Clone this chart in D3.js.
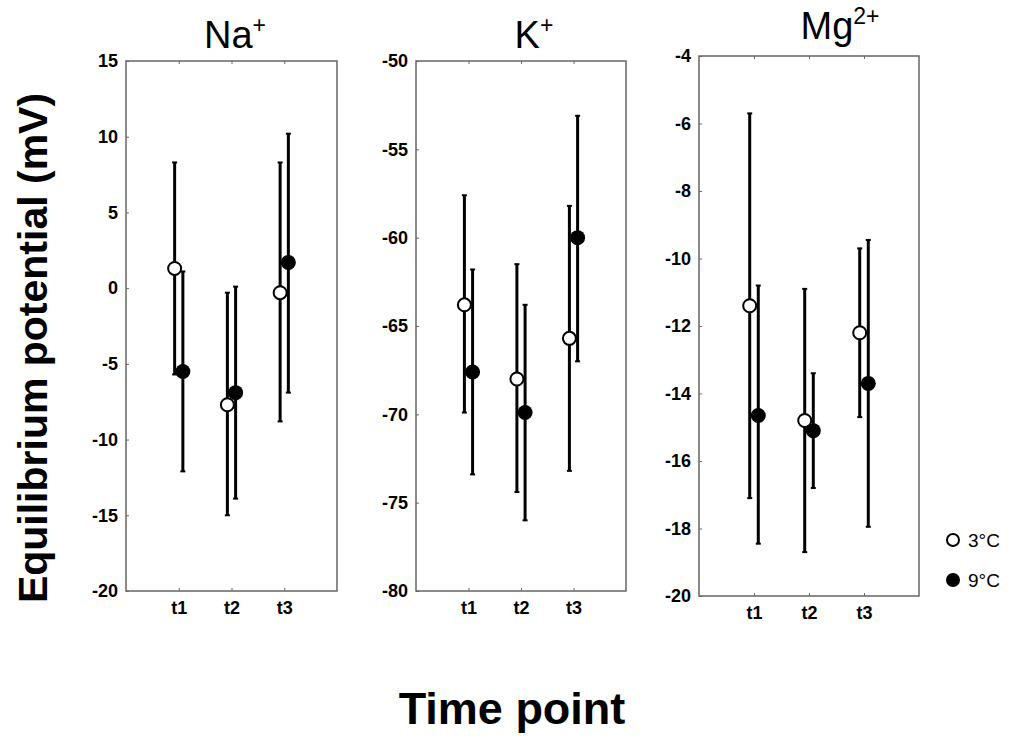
<!DOCTYPE html>
<html>
<head>
<meta charset="utf-8">
<script src="https://cdn.jsdelivr.net/npm/d3@7"></script>
<style>
  body { margin: 0; background: #fff; }
  svg { font-family: Arial, "Liberation Sans", sans-serif; }
  .tick text { font-family: Arial, "Liberation Sans", sans-serif; font-size: 18px; font-weight: bold; }
</style>
</head>
<body>
<div id="chart"></div>
<script>
// Chart size
var w = 1010;
var h = 736;

// Time points
var timePoints = ["t1", "t2", "t3"];

// Na+ (mean, lower, upper) for 3°C and 9°C
var naMean3 = [1.3, -7.7, -0.3];
var naLow3  = [-5.7, -15.0, -8.8];
var naHigh3 = [8.3, -0.3, 8.3];
var naMean9 = [-5.5, -6.9, 1.7];
var naLow9  = [-12.1, -13.9, -6.9];
var naHigh9 = [1.1, 0.1, 10.2];

// K+
var kMean3 = [-63.8, -68.0, -65.7];
var kLow3  = [-69.9, -74.4, -73.2];
var kHigh3 = [-57.6, -61.5, -58.2];
var kMean9 = [-67.6, -69.9, -60.0];
var kLow9  = [-73.4, -76.0, -67.0];
var kHigh9 = [-61.8, -63.8, -53.1];

// Mg2+
var mgMean3 = [-11.4, -14.8, -12.2];
var mgLow3  = [-17.1, -18.7, -14.7];
var mgHigh3 = [-5.7, -10.9, -9.7];
var mgMean9 = [-14.65, -15.1, -13.7];
var mgLow9  = [-18.45, -16.8, -17.95];
var mgHigh9 = [-10.8, -13.4, -9.45];

// Y axis tick values
var naTicks = [-20, -15, -10, -5, 0, 5, 10, 15];
var kTicks = [-80, -75, -70, -65, -60, -55, -50];
var mgTicks = [-20, -18, -16, -14, -12, -10, -8, -6, -4];

var svg = d3.select("#chart")
  .append("svg")
  .attr("width", w)
  .attr("height", h);

// Build rows for one series
function rows(mean, low, high, temp) {
  return timePoints.map(function(t, i) {
    return { i: i + 1, mean: mean[i], low: low[i], high: high[i], temp: temp };
  });
}

function drawPanel(p) {
  var xScale = d3.scaleLinear().domain([0, 4]).range([p.left, p.left + p.width]);
  var yScale = d3.scaleLinear().domain(d3.extent(p.ticks)).range([p.top + p.height, p.top]);
  var off = 0.078; // horizontal offset of the two temperatures

  var g = svg.append("g");

  // frame
  g.append("rect")
    .attr("x", p.left)
    .attr("y", p.top)
    .attr("width", p.width)
    .attr("height", p.height)
    .attr("fill", "none")
    .attr("stroke", "#666")
    .attr("stroke-width", 1.5);

  // y axis (plain hyphen minus like the original)
  var yAxis = g.append("g")
    .attr("transform", "translate(" + p.left + ",0)")
    .call(d3.axisLeft(yScale).tickValues(p.ticks)
      .tickFormat(function(d) { return String(d); })
      .tickSize(-3).tickPadding(8));
  yAxis.select(".domain").remove();
  yAxis.selectAll("line").attr("stroke", "#666");
  yAxis.selectAll("text").attr("fill", "#000");

  // x axis (bottom)
  var xAxis = g.append("g")
    .attr("transform", "translate(0," + (p.top + p.height) + ")")
    .call(d3.axisBottom(xScale).tickValues([1, 2, 3])
      .tickFormat(function(d) { return timePoints[d - 1]; })
      .tickSize(-3).tickPadding(10));
  xAxis.select(".domain").remove();
  xAxis.selectAll("line").attr("stroke", "#666");
  xAxis.selectAll("text").attr("fill", "#000");

  // top ticks
  var xTop = g.append("g")
    .attr("transform", "translate(0," + p.top + ")")
    .call(d3.axisTop(xScale).tickValues([1, 2, 3]).tickFormat("").tickSize(-3));
  xTop.select(".domain").remove();
  xTop.selectAll("line").attr("stroke", "#666");

  var data = rows(p.mean3, p.low3, p.high3, "3").concat(rows(p.mean9, p.low9, p.high9, "9"));
  function xPos(d) { return xScale(d.i + (d.temp === "3" ? -off : off)); }

  // error bars
  g.selectAll(".bar")
    .data(data)
    .enter()
    .append("line")
    .attr("x1", xPos)
    .attr("x2", xPos)
    .attr("y1", function(d) { return yScale(d.low); })
    .attr("y2", function(d) { return yScale(d.high); })
    .attr("stroke", "#000")
    .attr("stroke-width", 3);

  // caps
  ["low", "high"].forEach(function(k) {
    g.selectAll(".cap-" + k)
      .data(data)
      .enter()
      .append("line")
      .attr("x1", function(d) { return xPos(d) - 2.5; })
      .attr("x2", function(d) { return xPos(d) + 2.5; })
      .attr("y1", function(d) { return yScale(d[k]); })
      .attr("y2", function(d) { return yScale(d[k]); })
      .attr("stroke", "#000")
      .attr("stroke-width", 2);
  });

  // means
  g.selectAll(".pt")
    .data(data)
    .enter()
    .append("circle")
    .attr("cx", xPos)
    .attr("cy", function(d) { return yScale(d.mean); })
    .attr("r", function(d) { return d.temp === "3" ? 6.5 : 7.5; })
    .attr("fill", function(d) { return d.temp === "3" ? "#fff" : "#000"; })
    .attr("stroke", "#000")
    .attr("stroke-width", function(d) { return d.temp === "3" ? 2 : 0; });

  // title
  var title = svg.append("text")
    .attr("x", p.titleX)
    .attr("y", p.titleY)
    .attr("text-anchor", "middle")
    .style("font-size", "38px")
    .attr("fill", "#000");
  title.append("tspan").text(p.name);
  title.append("tspan")
    .attr("dy", -15)
    .style("font-size", "23px")
    .text(p.sup);
}

drawPanel({ name: "Na", sup: "+", left: 126, top: 61, width: 211, height: 530, ticks: naTicks,
  mean3: naMean3, low3: naLow3, high3: naHigh3, mean9: naMean9, low9: naLow9, high9: naHigh9,
  titleX: 235, titleY: 48 });
drawPanel({ name: "K", sup: "+", left: 416, top: 61, width: 210, height: 530, ticks: kTicks,
  mean3: kMean3, low3: kLow3, high3: kHigh3, mean9: kMean9, low9: kLow9, high9: kHigh9,
  titleX: 534, titleY: 48 });
drawPanel({ name: "Mg", sup: "2+", left: 699, top: 56, width: 220, height: 540, ticks: mgTicks,
  mean3: mgMean3, low3: mgLow3, high3: mgHigh3, mean9: mgMean9, low9: mgLow9, high9: mgHigh9,
  titleX: 840, titleY: 39 });

// Y axis title
svg.append("text")
  .attr("transform", "rotate(-90)")
  .attr("x", -348)
  .attr("y", 47)
  .attr("text-anchor", "middle")
  .attr("font-weight", "bold")
  .style("font-size", "41px")
  .text("Equilibrium potential (mV)");

// X axis title
svg.append("text")
  .attr("x", 512)
  .attr("y", 724)
  .attr("text-anchor", "middle")
  .attr("font-weight", "bold")
  .style("font-size", "45px")
  .text("Time point");

// Legend
var legend = [{ label: "3°C", fill: "#fff", r: 6, y: 540 }, { label: "9°C", fill: "#000", r: 7, y: 580 }];
legend.forEach(function(d) {
  svg.append("circle")
    .attr("cx", 953)
    .attr("cy", d.y)
    .attr("r", d.r)
    .attr("fill", d.fill)
    .attr("stroke", "#000")
    .attr("stroke-width", d.fill === "#fff" ? 2 : 0);
  svg.append("text")
    .attr("x", 968)
    .attr("y", d.y + 7)
    .style("font-size", "19px")
    .text(d.label);
});
</script>
</body>
</html>
